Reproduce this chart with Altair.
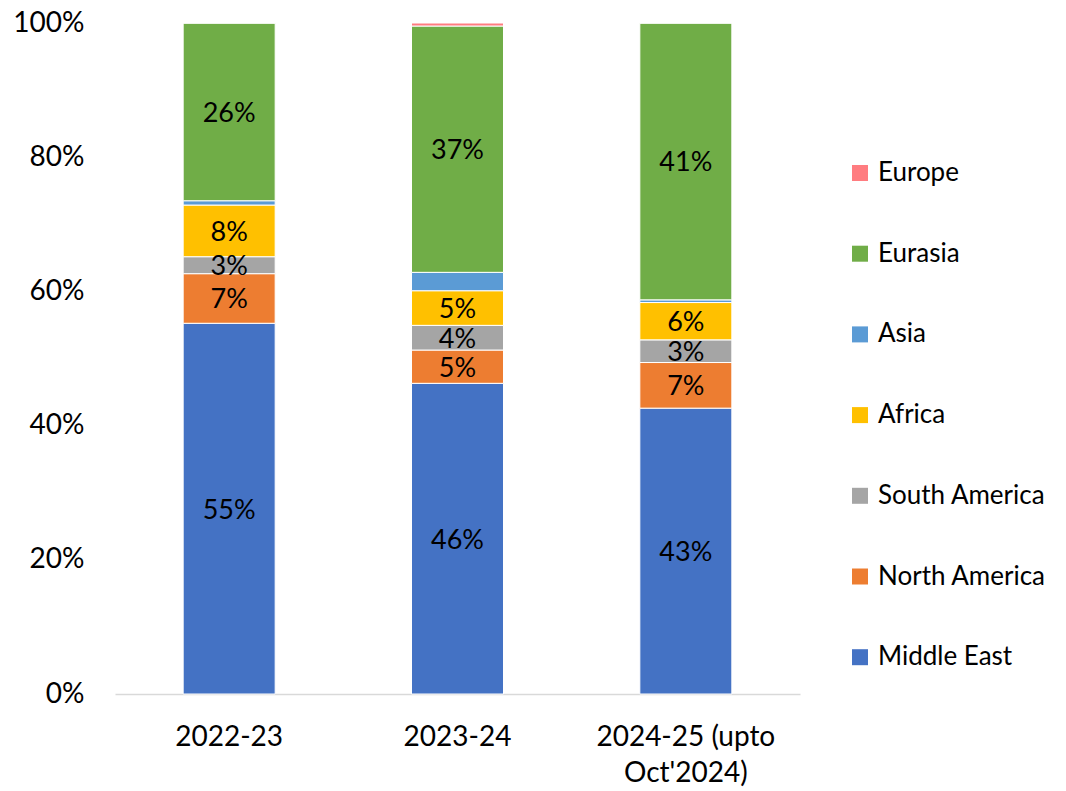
import altair as alt
import pandas as pd

years = ["2022-23", "2023-24", "2024-25 (upto Oct'2024)"]
regions = ["Middle East", "North America", "South America", "Africa", "Asia", "Eurasia", "Europe"]
middle_east = [55.25, 46.3, 42.6]
north_america = [7.39, 4.96, 6.8]
south_america = [2.53, 3.68, 3.38]
africa = [7.7, 5.16, 5.56]
asia = [0.64, 2.74, 0.4]
eurasia = [26.49, 36.71, 41.26]
europe = [0.0, 0.45, 0.0]
labelled = ["Middle East", "North America", "South America", "Africa", "Eurasia"]
colors = ["#4472C4", "#ED7D31", "#A5A5A5", "#FFC000", "#5B9BD5", "#70AD47", "#FF7C80"]

series = [middle_east, north_america, south_america, africa, asia, eurasia, europe]
rows = []
for ri, (reg, vals) in enumerate(zip(regions, series)):
    for y, v in zip(years, vals):
        rows.append({"year": y, "region": reg, "value": v, "order": ri,
                     "show": reg in labelled and v > 0})
df = pd.DataFrame(rows)

FONT = "Lato"
FS = 28
LFS = 26

legend_order = list(reversed(regions))
legend_colors = list(reversed(colors))

base = alt.Chart(df)

bars = base.mark_bar(size=92, stroke="white", strokeWidth=1).encode(
    x=alt.X("year:N", sort=years, title=None,
            scale=alt.Scale(paddingInner=0, paddingOuter=0),
            axis=alt.Axis(labelAngle=0, labelFont=FONT, labelFontSize=FS, labelColor="black",
                          ticks=False, domainColor="#D9D9D9", domainWidth=1.5,
                          labelPadding=29, labelLineHeight=36,
                          labelExpr="datum.value == \"2024-25 (upto Oct'2024)\" ? ['2024-25 (upto', \"Oct'2024)\"] : datum.value")),
    y=alt.Y("value:Q", stack="zero", title=None,
            scale=alt.Scale(domain=[0, 100], nice=False),
            axis=alt.Axis(values=[0, 20, 40, 60, 80, 100], labelExpr="datum.value + '%'",
                          labelFont=FONT, labelFontSize=FS, labelColor="black",
                          ticks=False, domain=False, grid=False, labelPadding=31)),
    color=alt.Color("region:N", sort=legend_order,
                    scale=alt.Scale(domain=legend_order, range=legend_colors),
                    legend=alt.Legend(title=None, orient="none", legendX=732, legendY=137,
                                      symbolType="square", symbolSize=256, symbolStrokeWidth=0,
                                      labelFont=FONT, labelFontSize=LFS, labelColor="black",
                                      labelLimit=300, rowPadding=54.7, labelOffset=5)),
    order=alt.Order("order:Q", sort="ascending"),
)

texts = base.transform_stack(
    stack="value", groupby=["year"], as_=["v0", "v1"],
    sort=[alt.SortField("order", order="ascending")]
).transform_calculate(
    mid="(datum.v0 + datum.v1) / 2",
    lbl="format(round(datum.value), 'd') + '%'"
).transform_filter("datum.show").mark_text(
    font=FONT, fontSize=27, color="black", baseline="middle", align="center", dy=2
).encode(
    x=alt.X("year:N", sort=years),
    y=alt.Y("mid:Q"),
    text="lbl:N",
)

chart = alt.layer(bars, texts).properties(
    width=685, height=671,
    autosize=alt.AutoSizeParams(type="none"),
    padding={"left": 107, "top": 15, "right": 258, "bottom": 95},
).configure_view(stroke=None)

chart.save("out.html", embed_options={"renderer": "svg", "actions": False})
